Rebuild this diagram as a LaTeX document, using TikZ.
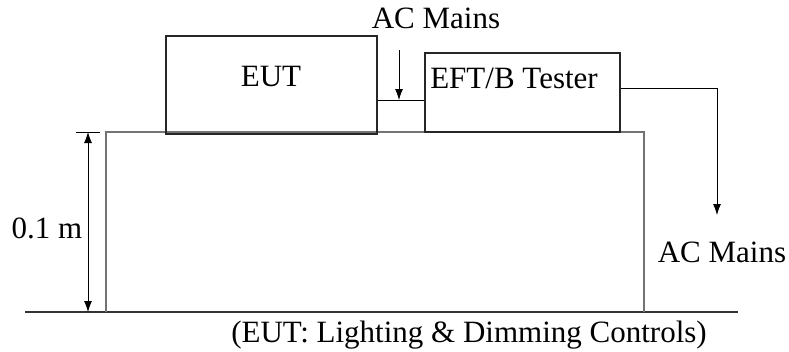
\documentclass[tikz,border=0pt]{standalone}
\usepackage{fontspec}
\setmainfont{Liberation Serif}
\usetikzlibrary{arrows.meta}
\begin{document}
\begin{tikzpicture}[x=1pt,y=-1pt,
  txt/.style={inner sep=0pt,anchor=base,font=\fontsize{31}{37}\selectfont},
  unitbox/.style={draw=black!85,line width=1.3pt,inner sep=0pt},
  tableline/.style={draw=black!55,line width=1.5pt},
  wire/.style={draw=black,line width=0.8pt},
  tip/.style={-{Latex[length=11pt,width=8pt]}}
]
\useasboundingbox (0,0) rectangle (789,351);

% ground and table
\coordinate (g1) at (25,312);
\coordinate (g2) at (738,312);
\draw[draw=black!80,line width=1.5pt] (g1) -- (g2);
\coordinate (tl) at (106,312);
\coordinate (tr) at (644,312);
\draw[tableline] (tl) -- (106,132) -- (644,132) -- (tr);

% equipment boxes
\node[unitbox,minimum width=211pt,minimum height=98pt] (eut) at (271.5,85) {};
\node[unitbox,minimum width=195pt,minimum height=79pt] (eft) at (522.5,92.5) {};
\node[txt] at (271,86) {EUT};
\node[txt] at (514,88) {EFT/B Tester};

% mains feed between the units
\coordinate (l1) at (eut.east |- 0,100);
\coordinate (l2) at (eft.west |- 0,100);
\draw[wire] (l1) -- (l2);
\node[txt] (acTop) at (436,28) {AC Mains};
\coordinate (aTop) at (399,50);
\coordinate (aBot) at (399,100);
\draw[wire,tip] (aTop) -- (aBot);

% tester output
\coordinate (o1) at (eft.east |- 0,88);
\coordinate (o2) at (717,88);
\coordinate (o3) at (717,215);
\draw[wire,tip] (o1) -- (o2) -- (o3);
\node[txt] (acRight) at (722,262) {AC Mains};

% height dimension
\coordinate (d1) at (88,132);
\coordinate (d2) at (88,312);
\coordinate (t1) at (76,132);
\coordinate (t2) at (100,132);
\draw[wire] (t1) -- (t2);
\draw[wire,{Latex[length=11pt,width=8pt]}-{Latex[length=11pt,width=8pt]}] (d1) -- (d2);
\node[txt] (dim) at (47,238) {0.1 m};

\node[txt] (caption) at (469,342) {(EUT: Lighting \& Dimming Controls)};
\end{tikzpicture}
\end{document}
